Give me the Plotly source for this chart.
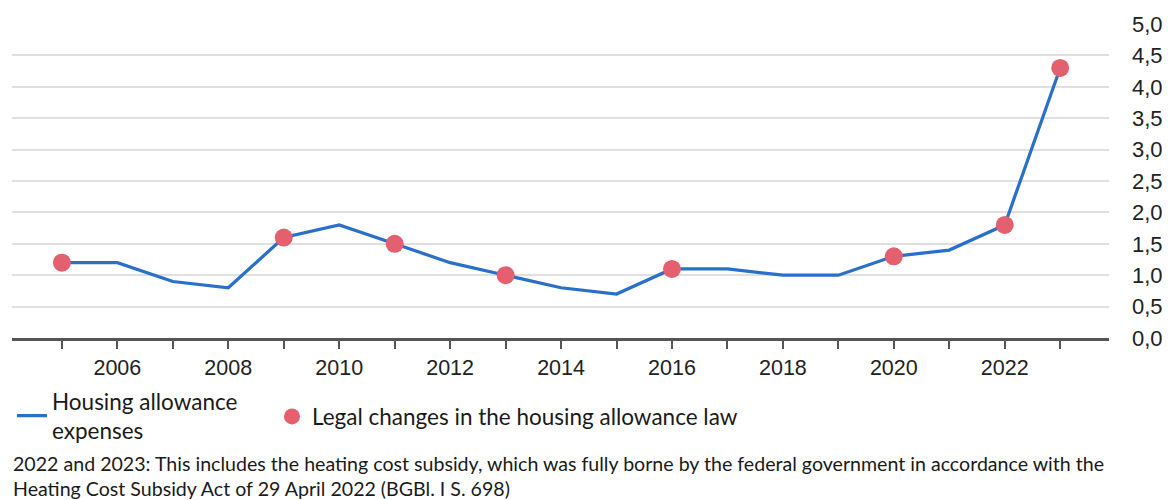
import plotly.graph_objects as go

# Annual housing allowance expenses (billion euros)
years = list(range(2005, 2024))
expenses = [1.2, 1.2, 0.9, 0.8, 1.6, 1.8, 1.5, 1.2, 1.0, 0.8, 0.7,
            1.1, 1.1, 1.0, 1.0, 1.3, 1.4, 1.8, 4.3]

# Years with legal changes in the housing allowance law
change_years = [2005, 2009, 2011, 2013, 2016, 2020, 2022, 2023]
change_values = [expenses[years.index(y)] for y in change_years]

y_ticks = [0, 0.5, 1.0, 1.5, 2.0, 2.5, 3.0, 3.5, 4.0, 4.5, 5.0]
x_label_years = [2006, 2008, 2010, 2012, 2014, 2016, 2018, 2020, 2022]

note = ("2022 and 2023: This includes the heating cost subsidy, which was fully borne by the "
        "federal government in accordance with the<br>Heating Cost Subsidy Act of 29 April 2022 "
        "(BGBl. I S. 698)")

LINE_BLUE = "#2a6fca"
MARK_RED = "#e5606f"
TEXT_FONT = "Lato"
AXIS_FONT = "Liberation Sans, Arial, sans-serif"
legend_font = dict(family=TEXT_FONT, size=22.5, color="#1a1a1a")

fig = go.Figure()
fig.add_trace(go.Scatter(
    x=years, y=expenses, mode="lines",
    line=dict(color=LINE_BLUE, width=3.2),
    name="Housing allowance<br>expenses",
    legend="legend",
))
fig.add_trace(go.Scatter(
    x=change_years, y=change_values, mode="markers",
    marker=dict(color=MARK_RED, size=18),
    name="Legal changes in the housing allowance law",
    legend="legend2",
))

fig.update_layout(
    width=1168, height=500,
    margin=dict(l=12, r=59, t=24, b=162, autoexpand=False),
    plot_bgcolor="white", paper_bgcolor="white",
    separators=",.",
    showlegend=True,
    legend=dict(
        orientation="h", x=0.0, y=-0.248, xanchor="left", yanchor="middle",
        font=legend_font, itemwidth=30, bgcolor="rgba(0,0,0,0)",
    ),
    legend2=dict(
        orientation="h", x=0.237, y=-0.251, xanchor="left", yanchor="middle",
        font=legend_font, itemwidth=30, bgcolor="rgba(0,0,0,0)",
    ),
    annotations=[dict(
        text=note, xref="paper", yref="paper", x=-0.001, y=-0.356,
        xanchor="left", yanchor="top", align="left", showarrow=False,
        font=dict(family=TEXT_FONT, size=19.6, color="#1a1a1a"),
    )],
)

fig.update_xaxes(
    range=[2004.1, 2023.88], automargin=False,
    tickmode="array", tickvals=x_label_years, ticktext=[str(v) for v in x_label_years],
    ticks="outside", ticklen=8, tickwidth=1.5, tickcolor="#555555",
    minor=dict(dtick=1, tick0=2005, ticks="outside", ticklen=8, tickwidth=1.5,
               tickcolor="#555555", showgrid=False),
    showline=True, linecolor="#555555", linewidth=2.5,
    showgrid=False, zeroline=False,
    tickfont=dict(family=AXIS_FONT, size=21.5, color="#222222"),
)
fig.update_yaxes(
    range=[0, 5.0], side="right", automargin=False,
    tickmode="array", tickvals=y_ticks, tickformat=".1f",
    showgrid=True, gridcolor="#e0e0e0", gridwidth=1.5,
    zeroline=False, showline=False, ticks="",
    ticklabelstandoff=22,
    tickfont=dict(family=AXIS_FONT, size=22, color="#222222"),
)

fig.write_html("out.html")
